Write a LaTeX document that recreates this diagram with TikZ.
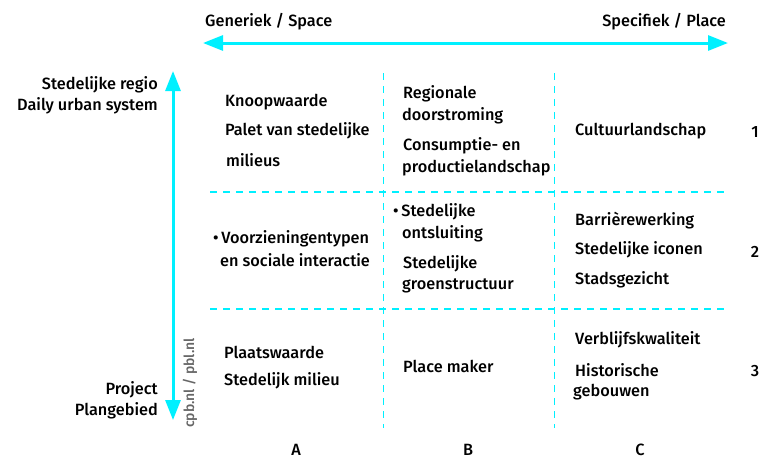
\documentclass[tikz,border=0pt]{standalone}
\usepackage{fontspec}
\setmainfont{Fira Sans}[UprightFont={* Medium}]
\usetikzlibrary{arrows.meta}
\definecolor{axis}{HTML}{00F0FF}
\tikzset{
  txt/.style={anchor=west, inner sep=0pt, font=\fontsize{16.3}{18}\selectfont},
  rtxt/.style={anchor=east, inner sep=0pt, font=\fontsize{16.3}{18}\selectfont},
  lbl/.style={anchor=center, inner sep=0pt, font=\fontsize{16.3}{18}\selectfont},
  grid/.style={axis, line width=1.2pt, dash pattern=on 7pt off 6pt},
  bigarrow/.style={axis, line width=3pt, {Triangle[length=20pt,width=15pt]}-{Triangle[length=20pt,width=15pt]}}
}
\begin{document}
\begin{tikzpicture}[x=1pt,y=-1pt]
\useasboundingbox (0,0) rectangle (761,459);
% axes
\coordinate (hL) at (203,43);
\coordinate (hR) at (728,43);
\draw[bigarrow] (hL) -- (hR);
\coordinate (vT) at (173,71);
\coordinate (vB) at (173,420);
\draw[bigarrow] (vT) -- (vB);
% grid
\coordinate (g1t) at (383.5,73); \coordinate (g1b) at (383.5,428);
\coordinate (g2t) at (554.5,73); \coordinate (g2b) at (554.5,428);
\coordinate (h1l) at (210,192); \coordinate (h1r) at (728,192);
\coordinate (h2l) at (210,309); \coordinate (h2r) at (728,309);
\draw[grid] (g1t) -- (g1b);
\draw[grid] (g2t) -- (g2b);
\draw[grid] (h1l) -- (h1r);
\draw[grid] (h2l) -- (h2r);
% axis labels
\node[txt] (gen) at (205,22) {Generiek / Space};
\node[rtxt] (spec) at (726,22) {Specifiek / Place};
\node[rtxt] (reg1) at (158,85) {Stedelijke regio};
\node[rtxt] (reg2) at (158,106) {Daily urban system};
\node[rtxt] (proj1) at (158,390) {Project};
\node[rtxt] (proj2) at (158,411) {Plangebied};
\node[anchor=center, inner sep=0pt, rotate=90, text=black!60, font=\fontsize{14}{16}\selectfont] (src) at (190,383) {cpb.nl / pbl.nl};
% column / row labels
\node[lbl] (cA) at (296,450) {A};
\node[lbl] (cB) at (468,450) {B};
\node[lbl] (cC) at (640,450) {C};
\node[lbl] (r1) at (755,132) {1};
\node[lbl] (r2) at (755,252) {2};
\node[lbl] (r3) at (755,371) {3};
% row 1
\node[txt] (a1a) at (225,102) {Knoopwaarde};
\node[txt] (a1b) at (225,131) {Palet van stedelijke};
\node[txt] (a1c) at (226,160) {milieus};
\node[txt] (b1a) at (403,94) {Regionale};
\node[txt] (b1b) at (402,116) {doorstroming};
\node[txt] (b1c) at (403,146) {Consumptie- en};
\node[txt] (b1d) at (402,168) {productielandschap};
\node[txt] (c1a) at (575,131) {Cultuurlandschap};
% row 2
\node[txt] (a2a) at (213,239) {\textbullet\,Voorzieningentypen};
\node[txt] (a2b) at (220,260) {en sociale interactie};
\node[txt] (b2a) at (393,212) {\textbullet\,Stedelijke};
\node[txt] (b2b) at (402,234) {ontsluiting};
\node[txt] (b2c) at (403,264) {Stedelijke};
\node[txt] (b2d) at (402,286) {groenstructuur};
\node[txt] (c2a) at (575,221) {Barrièrewerking};
\node[txt] (c2b) at (575,250) {Stedelijke iconen};
\node[txt] (c2c) at (575,280) {Stadsgezicht};
% row 3
\node[txt] (a3a) at (224,352) {Plaatswaarde};
\node[txt] (a3b) at (224,381) {Stedelijk milieu};
\node[txt] (b3a) at (403,366) {Place maker};
\node[txt] (c3a) at (575,340) {Verblijfskwaliteit};
\node[txt] (c3b) at (575,370) {Historische};
\node[txt] (c3c) at (573,392) {gebouwen};
\end{tikzpicture}
\end{document}
